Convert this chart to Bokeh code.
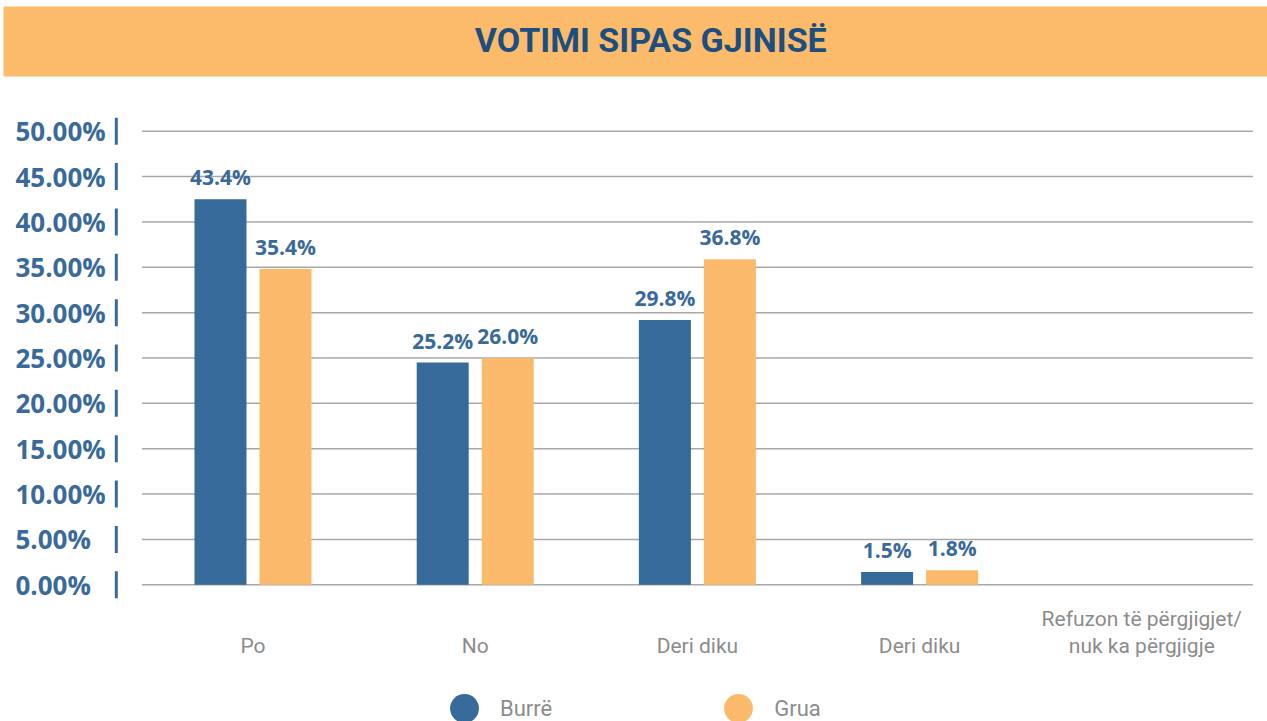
from bokeh.plotting import figure
from bokeh.models import Range1d, ColumnDataSource, Legend, LegendItem
from bokeh.transform import dodge
from bokeh.core.properties import value
from bokeh.embed import file_html
from bokeh.resources import INLINE

# ---------------- data ----------------
title_text = "VOTIMI SIPAS GJINISË"
categories = ["Po", "No", "Deri diku", "Deri diku",
              "Refuzon të përgjigjet/\nnuk ka përgjigje"]
series_names = ["Burrë", "Grua"]
burre_values = [42.5, 24.5, 29.2, 1.4, 0.0]
grua_values = [34.8, 25.0, 35.9, 1.6, 0.0]
burre_labels = ["43.4%", "25.2%", "29.8%", "1.5%", ""]
grua_labels = ["35.4%", "26.0%", "36.8%", "1.8%", ""]
y_ticks = [0, 5, 10, 15, 20, 25, 30, 35, 40, 45, 50]
y_tick_labels = ["0.00%", "5.00%", "10.00%", "15.00%", "20.00%", "25.00%",
                 "30.00%", "35.00%", "40.00%", "45.00%", "50.00%"]

# ---------------- style ----------------
BLUE = "#366A9A"
ORANGE = "#FBBA6B"
BANNER = "#FBBB6B"
TITLE_C = "#1C4F80"
LABEL_C = "#3A6A9A"
GRAY_T = "#8C8C8C"
GRID_C = "#A8A8A8"

W, H = 1267, 721
x_start, x_end = -1.1364, 4.5657
y_start, y_end = -15.07, 64.41
px_per_pct = 9.072
bar_w = 0.234
off = 0.1463

p = figure(width=W, height=H, output_backend="svg", toolbar_location=None,
           x_range=Range1d(x_start, x_end), y_range=Range1d(y_start, y_end),
           x_axis_type=None, y_axis_type=None, min_border=0,
           outline_line_color=None, background_fill_color="white")
p.grid.visible = False

# title banner
p.quad(left=[-1.1229], right=[x_end], bottom=[y_end - 76 / px_per_pct],
       top=[y_end - 6 / px_per_pct], fill_color=BANNER, line_color=None)
p.text(x=[1.79], y=[y_end - 40 / px_per_pct], text=[title_text],
       text_font=value("Roboto"), text_font_style="bold", text_font_size="34px",
       text_color=TITLE_C, text_align="center", text_baseline="middle")

# gridlines
n = len(y_ticks)
p.segment(x0=[-0.5] * n, x1=[len(categories) - 0.5] * n, y0=y_ticks, y1=y_ticks,
          line_color=GRID_C, line_width=1.5)

# y tick labels and markers
p.text(x=[-1.069] * n, y=y_ticks, text=y_tick_labels,
       text_font=value("Open Sans"), text_font_style="bold", text_font_size="26px",
       text_color=LABEL_C, text_align="left", text_baseline="middle")
half = 13.5 / px_per_pct
p.segment(x0=[-0.6152] * n, x1=[-0.6152] * n,
          y0=[t - half for t in y_ticks], y1=[t + half for t in y_ticks],
          line_color=LABEL_C, line_width=3)

src = ColumnDataSource(dict(x=list(range(len(categories))), cat=categories,
                            burre=burre_values, grua=grua_values,
                            bl=burre_labels, gl=grua_labels))

p.vbar(x=dodge("x", -off), top="burre", bottom=0, width=bar_w, source=src,
       fill_color=BLUE, line_color=None)
p.vbar(x=dodge("x", off), top="grua", bottom=0, width=bar_w, source=src,
       fill_color=ORANGE, line_color=None)

lab_kw = dict(text_font=value("Open Sans"), text_font_style="bold", text_font_size="21px",
              text_color=LABEL_C, text_align="center", text_baseline="middle",
              y_offset=-22)
p.text(x=dodge("x", -off), y="burre", text="bl", source=src, **lab_kw)
p.text(x=dodge("x", off), y="grua", text="gl", source=src, **lab_kw)

# category labels
p.text(x="x", y=0, text="cat", source=src, y_offset=73,
       text_font=value("Roboto"), text_font_size="21px", text_color=GRAY_T,
       text_align="center", text_baseline="bottom", text_line_height=1.1)

# legend (zero-size markers, only used for legend glyphs)
r_b = p.scatter(x=dodge("x", -off), y="burre", source=src, marker="circle", size=0,
                fill_color=BLUE, line_color=None)
r_g = p.scatter(x=dodge("x", off), y="grua", source=src, marker="circle", size=0,
                fill_color=ORANGE, line_color=None)
legend = Legend(items=[LegendItem(label=series_names[0], renderers=[r_b]),
                       LegendItem(label=series_names[1], renderers=[r_g])],
                orientation="horizontal", location=(428, -23),
                glyph_width=72, glyph_height=72, label_standoff=0, spacing=150,
                padding=0, margin=0, border_line_color=None, background_fill_alpha=0,
                label_text_font="Roboto", label_text_font_size="22px",
                label_text_color=GRAY_T)
p.add_layout(legend)

open("out.html", "w").write(file_html(p, INLINE))
